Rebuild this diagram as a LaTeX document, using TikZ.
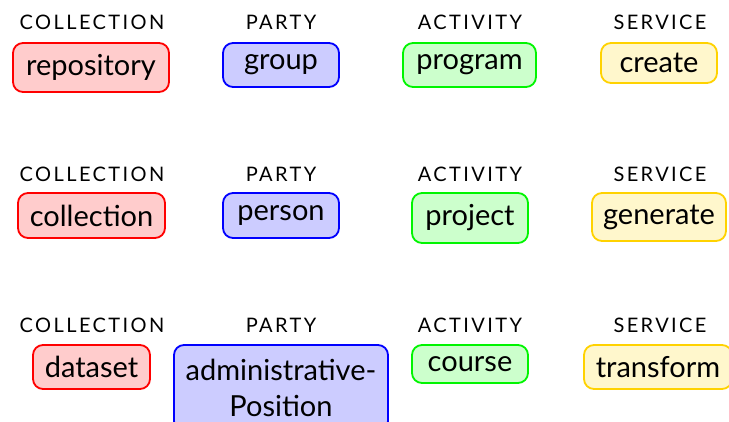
\documentclass[tikz,border=0pt]{standalone}
\usepackage{fontspec}
\setmainfont{Lato}
\newfontfamily\lblfont[LetterSpace=12]{Lato}
\begin{document}
\begin{tikzpicture}[x=1pt,y=-1pt,
  lbl/.style={anchor=base,font=\lblfont\fontsize{20}{23}\selectfont},
  bx/.style={rounded corners=10pt,line width=1.8pt,inner sep=0pt,align=center,
    font=\fontsize{29}{36}\selectfont},
  col/.style={bx,draw=red,fill={rgb,255:red,255;green,204;blue,204}},
  par/.style={bx,draw=blue,fill={rgb,255:red,204;green,204;blue,255}},
  act/.style={bx,draw={rgb,255:red,0;green,245;blue,0},fill={rgb,255:red,204;green,255;blue,204}},
  ser/.style={bx,draw={rgb,255:red,255;green,210;blue,0},fill={rgb,255:red,255;green,247;blue,204}}]
\useasboundingbox (0,0) rectangle (729,422);
\clip (0,0) rectangle (729,422);
% labels
\foreach \r/\y in {1/30,2/182,3/333}{
  \node[lbl] (lc\r) at (92,\y) {COLLECTION};
  \node[lbl] (lp\r) at (281,\y) {PARTY};
  \node[lbl] (la\r) at (470,\y) {ACTIVITY};
  \node[lbl] (ls\r) at (660,\y) {SERVICE};
}
% row 1
\node[col,minimum width=156pt,minimum height=49pt] (repository) at (91,67.5) {repository};
\node[par,minimum width=116pt,minimum height=44pt] (group) at (281,65) {group};
\node[act,minimum width=133pt,minimum height=44pt] (program) at (469.5,65) {program};
\node[ser,minimum width=116pt,minimum height=40pt] (create) at (659,63) {create};
% row 2
\node[col,minimum width=147pt,minimum height=45pt] (collection) at (91.5,215.5) {collection};
\node[par,minimum width=116pt,minimum height=45pt] (person) at (281,215.5) {person};
\node[act,minimum width=116pt,minimum height=50pt] (project) at (470,218) {project};
\node[ser,minimum width=134pt,minimum height=48pt] (generate) at (659,217) {generate};
% row 3
\node[col,minimum width=117pt,minimum height=44pt] (dataset) at (91.5,367) {dataset};
\node[par,minimum width=214pt,minimum height=86pt,text depth=0pt] (adminpos) at (281,388) {administrative-\\Position};
\node[act,minimum width=116pt,minimum height=38pt] (course) at (470,364) {course};
\node[ser,minimum width=148pt,minimum height=44pt] (transform) at (658,367) {transform};
\end{tikzpicture}
\end{document}
